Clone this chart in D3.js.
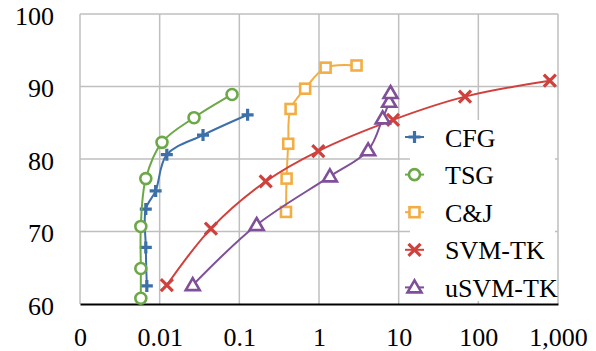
<!DOCTYPE html>
<html>
<head>
<meta charset="utf-8">
<script src="https://cdn.jsdelivr.net/npm/d3@7"></script>
<style>
body { margin: 0; background: #fff; }
svg text { font-family: "Liberation Serif", "DejaVu Serif", "Times New Roman", Times, serif; }
</style>
</head>
<body>
<svg id="chart" width="596" height="351"></svg>
<script>
// series values (x is log scale)
const names = ["CFG", "TSG", "C&J", "SVM-TK", "uSVM-TK"];

const cfgX = [0.0069, 0.0067, 0.0067, 0.0089, 0.0123, 0.035, 0.127];
const cfgY = [62.5, 67.8, 73.1, 75.6, 80.6, 83.3, 86.1];

const tsgX = [0.0058, 0.0058, 0.0058, 0.0067, 0.0107, 0.027, 0.081];
const tsgY = [60.8, 64.9, 70.7, 77.3, 82.3, 85.7, 88.9];

const cjX = [0.385, 0.392, 0.411, 0.44, 0.67, 1.21, 2.96];
const cjY = [72.7, 77.3, 82.1, 86.9, 89.7, 92.6, 92.9];

const svmX = [0.0123, 0.044, 0.214, 0.98, 8.5, 68, 790];
const svmY = [62.6, 70.4, 76.9, 81.1, 85.4, 88.6, 90.8];

const usvmX = [0.026, 0.165, 1.37, 4.14, 6.3, 7.6, 7.9];
const usvmY = [62.6, 70.9, 77.6, 81.2, 85.6, 87.9, 89.1];

const xTicks = [0.001, 0.01, 0.1, 1, 10, 100, 1000];
const xTickLabels = ["0", "0.01", "0.1", "1", "10", "100", "1,000"];
const yTicks = [60, 70, 80, 90, 100];

const colors = ["#3d6fa8", "#6ca848", "#f2ae44", "#d0403c", "#7f4f99"];
const markers = ["plus", "circle", "square", "cross", "triangle"];
const serif = "'Liberation Serif', 'DejaVu Serif', 'Times New Roman', serif";

const svg = d3.select("#chart");

const x = d3.scaleLog().domain([0.001, 1000]).range([80, 558]);
const y = d3.scaleLinear().domain([60, 100]).range([304, 14]);

// gridlines
svg.append("g").selectAll("line").data(xTicks).enter().append("line")
  .attr("x1", d => x(d)).attr("x2", d => x(d))
  .attr("y1", y(100)).attr("y2", y(60))
  .attr("stroke", "#bfbfbf").attr("stroke-width", 1.5);
svg.append("g").selectAll("line").data(yTicks.slice(1)).enter().append("line")
  .attr("x1", x(0.001)).attr("x2", x(1000))
  .attr("y1", d => y(d)).attr("y2", d => y(d))
  .attr("stroke", "#bfbfbf").attr("stroke-width", 1.5);

// bottom axis
const xAxis = d3.axisBottom(x).tickValues(xTicks)
  .tickFormat((d, i) => xTickLabels[i]).tickSize(0).tickPadding(0);
const gx = svg.append("g").attr("transform", `translate(0,${y(60)})`).call(xAxis)
  .attr("font-family", serif);
gx.select(".domain").attr("stroke", "#000").attr("stroke-width", 2);
gx.selectAll("text").attr("font-size", 26).attr("fill", "#000")
  .attr("y", 42).attr("dy", 0);

// left axis labels
const yAxis = d3.axisLeft(y).tickValues(yTicks).tickSize(0).tickPadding(26);
const gy = svg.append("g").attr("transform", `translate(${x(0.001)},0)`).call(yAxis)
  .attr("font-family", serif);
gy.select(".domain").remove();
gy.selectAll("text").attr("font-size", 26).attr("fill", "#000").attr("dy", "0.4em");

function drawMarker(g, type, color) {
  if (type == "plus") {
    g.append("path").attr("d", "M-6,0H6M0,-6V6")
      .attr("stroke", color).attr("stroke-width", 3.2).attr("fill", "none");
  } else if (type == "cross") {
    g.append("path").attr("d", "M-6,-6L6,6M-6,6L6,-6")
      .attr("stroke", color).attr("stroke-width", 3.2).attr("fill", "none");
  } else if (type == "circle") {
    g.append("circle").attr("r", 5.5)
      .attr("stroke", color).attr("stroke-width", 2.6).attr("fill", "#fff");
  } else if (type == "square") {
    g.append("rect").attr("x", -5).attr("y", -5).attr("width", 10).attr("height", 10)
      .attr("stroke", color).attr("stroke-width", 2.6).attr("fill", "#fff");
  } else {
    g.append("path").attr("d", "M0,-7L7,5L-7,5Z")
      .attr("stroke", color).attr("stroke-width", 2.6).attr("fill", "#fff")
      .attr("stroke-linejoin", "miter");
  }
}

const allX = [cfgX, tsgX, cjX, svmX, usvmX];
const allY = [cfgY, tsgY, cjY, svmY, usvmY];

const line = d3.line()
  .x(d => x(d[0])).y(d => y(d[1]))
  .curve(d3.curveCatmullRom.alpha(0.5));

for (let s = 0; s < names.length; s++) {
  const pts = allX[s].map((v, i) => [v, allY[s][i]]);
  svg.append("path").datum(pts).attr("d", line)
    .attr("fill", "none").attr("stroke", colors[s]).attr("stroke-width", 2);
  svg.append("g").selectAll("g").data(pts).enter().append("g")
    .attr("transform", d => `translate(${x(d[0])},${y(d[1])})`)
    .each(function () { drawMarker(d3.select(this), markers[s], colors[s]); });
}

// legend
const legend = svg.append("g").attr("font-family", serif);
legend.append("rect").attr("x", 410).attr("y", 120).attr("width", 145).attr("height", 181)
  .attr("fill", "#fff");
names.forEach((n, i) => {
  const cy = 137 + i * 37.6;
  legend.append("line").attr("x1", 405).attr("x2", 424).attr("y1", cy).attr("y2", cy)
    .attr("stroke", colors[i]).attr("stroke-width", 2);
  const m = legend.append("g").attr("transform", `translate(414.5,${cy})`);
  drawMarker(m, markers[i], colors[i]);
  legend.append("text").attr("x", 445).attr("y", cy + 9.5)
    .attr("font-size", 26).attr("fill", "#000").text(n);
});
</script>
</body>
</html>
